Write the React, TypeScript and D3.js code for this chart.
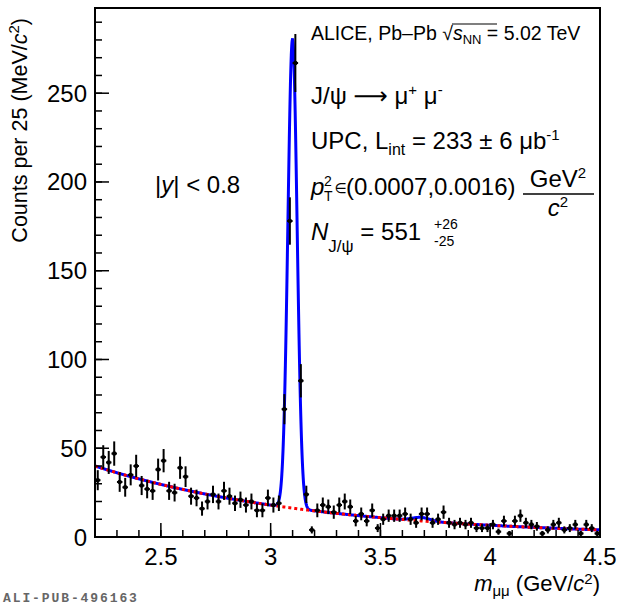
import React from 'react'
import * as d3 from 'd3'

// dimuon invariant mass histogram, 25 MeV bins from 2.2 to 4.5 GeV/c2
const massMin = 2.2
const massMax = 4.5
const binWidth = 0.025
const counts = [
  32, 45, 42, 47, 31, 28, 35, 40, 29, 27,
  26, 38, 43, 26, 25, 39, 34, 23, 22, 16,
  20, 24, 20, 26, 23, 19, 21, 18, 20, 15,
  15, 22, 18, 19, 72, 178, 267, 88, 24, 4,
  15, 18, 17, 14, 18, 20, 17, 9, 13, 9,
  15, 5, 10, 12, 12, 12, 13, 10, 8, 13,
  13, 8, 10, 14, 8, 7, 8, 7, 8, 5,
  5, 5, 7, 3, 9, 2, 9, 12, 8, 7,
  6, 2, 4, 7, 8, 4, 5, 7, 2, 7,
  5, 2,
]

// fit model parameters (counts per bin)
const bkgNorm = 40
const bkgSlope = 1.0
const jpsiAmp = 264
const jpsiMean = 3.0995
const jpsiSigma = 0.021
const psi2sAmp = 2
const psi2sMean = 3.686
const psi2sSigma = 0.04

const xMajorTicks = [2.5, 3, 3.5, 4, 4.5]
const xTickLabels = ['2.5', '3', '3.5', '4', '4.5']
const yMajorTicks = [0, 50, 100, 150, 200, 250]
const yTickLabels = ['0', '50', '100', '150', '200', '250']

const W = 620
const H = 606
const margin = { top: 8, right: 20, bottom: 69, left: 95 }
const font = 'Liberation Sans, Arial, Helvetica, sans-serif'

function bkg(m: number) {
  return bkgNorm * Math.exp(-bkgSlope * (m - massMin))
}
function gaus(m: number, a: number, mu: number, s: number) {
  const t = (m - mu) / s
  return a * Math.exp(-0.5 * t * t)
}
function total(m: number) {
  return bkg(m) + gaus(m, jpsiAmp, jpsiMean, jpsiSigma) + gaus(m, psi2sAmp, psi2sMean, psi2sSigma)
}

export default function App() {
  const x = d3.scaleLinear().domain([massMin, massMax]).range([margin.left, W - margin.right])
  const y = d3.scaleLinear().domain([0, 298]).range([H - margin.bottom, margin.top])
  const x0 = x.range()[0], x1 = x.range()[1]
  const y0 = y.range()[0], y1 = y.range()[1]

  const xMinor = d3.range(22, 46).map(d => d / 10)
  const yMinor = d3.range(0, 30).map(d => d * 10)

  const grid = d3.range(massMin, massMax + 1e-9, 0.001)
  const totalLine = d3.line<number>().x(d => x(d)).y(d => y(total(d)))
  const bkgLine = d3.line<number>().x(d => x(d)).y(d => y(bkg(d)))

  const points = counts.map((c, i) => ({ m: massMin + binWidth * (i + 0.5), c, e: Math.sqrt(c) }))

  return (
    <svg width={W} height={H} style={{ position: 'absolute', left: 0, top: 0, background: '#fff' }} fontFamily={font}>
      <defs>
        <clipPath id="frame">
          <rect x={x0} y={y1} width={x1 - x0} height={y0 - y1} />
        </clipPath>
      </defs>

      {/* fit curves */}
      <g clipPath="url(#frame)">
        <path d={totalLine(grid) ?? ''} fill="none" stroke="#0000ff" strokeWidth={3} />
        <path d={bkgLine(grid) ?? ''} fill="none" stroke="#ff0000" strokeWidth={3} strokeDasharray="3 3" />
      </g>

      {/* data */}
      <g stroke="#000" strokeWidth={2}>
        {points.map((p, i) => (
          <g key={i}>
            <line x1={x(p.m)} x2={x(p.m)} y1={y(Math.max(0, p.c - p.e))} y2={y(p.c + p.e)} />
            <line x1={x(p.m - binWidth / 2)} x2={x(p.m + binWidth / 2)} y1={y(p.c)} y2={y(p.c)} />
            <circle cx={x(p.m)} cy={y(p.c)} r={2.2} fill="#000" stroke="none" />
          </g>
        ))}
      </g>

      {/* frame and ticks */}
      <rect x={x0} y={y1} width={x1 - x0} height={y0 - y1} fill="none" stroke="#000" strokeWidth={2} />
      <g stroke="#000" strokeWidth={1.5}>
        {xMinor.map(t => (
          <line key={'xm' + t} x1={x(t)} x2={x(t)} y1={y0} y2={y0 - 7} />
        ))}
        {xMajorTicks.map(t => (
          <line key={'xM' + t} x1={x(t)} x2={x(t)} y1={y0} y2={y0 - 14} />
        ))}
        {yMinor.map(t => (
          <line key={'ym' + t} x1={x0} x2={x0 + 7} y1={y(t)} y2={y(t)} />
        ))}
        {yMajorTicks.map(t => (
          <line key={'yM' + t} x1={x0} x2={x0 + 14} y1={y(t)} y2={y(t)} />
        ))}
      </g>
      <g fontSize={24} fill="#000">
        {xMajorTicks.map((t, i) => (
          <text key={'xl' + t} x={x(t)} y={y0 + 28} textAnchor="middle">{xTickLabels[i]}</text>
        ))}
        {yMajorTicks.map((t, i) => (
          <text key={'yl' + t} x={x0 - 8} y={y(t) + 8.5} textAnchor="end">{yTickLabels[i]}</text>
        ))}
      </g>

      {/* axis titles */}
      <text transform="translate(27,18) rotate(-90)" textAnchor="end" fontSize={21.5}>
        Counts per 25 (MeV/<tspan fontStyle="italic">c</tspan><tspan dy={-8} fontSize={15}>2</tspan><tspan dy={8}>)</tspan>
      </text>
      <text x={x1} y={591} textAnchor="end" fontSize={22}>
        <tspan fontStyle="italic">m</tspan><tspan dy={5} fontSize={15}>μμ</tspan><tspan dy={-5}> (GeV/</tspan><tspan fontStyle="italic">c</tspan><tspan dy={-7} fontSize={15}>2</tspan><tspan dy={7}>)</tspan>
      </text>

      {/* annotations */}
      <text x={311} y={39.5} fontSize={19.5}>
        ALICE, Pb–Pb √<tspan fontStyle="italic">s</tspan><tspan dy={4} fontSize={13}>NN</tspan><tspan dy={-4}> = 5.02 TeV</tspan>
      </text>
      <line x1={452} x2={497} y1={24} y2={24} stroke="#000" strokeWidth={1.2} />
      <text x={311} y={104} fontSize={24}>
        J/ψ <tspan fontFamily="DejaVu Sans">⟶</tspan> μ<tspan dy={-9} fontSize={15}>+</tspan><tspan dy={9}> μ</tspan><tspan dy={-9} fontSize={15}>-</tspan>
      </text>
      <text x={311} y={149} fontSize={24}>
        UPC, L<tspan dy={6} fontSize={16}>int</tspan><tspan dy={-6}> = 233 ± 6 μb</tspan><tspan dy={-9} fontSize={15}>-1</tspan>
      </text>
      <text x={311} y={195} fontSize={24} fontStyle="italic">p</text>
      <text x={324} y={186} fontSize={14}>2</text>
      <text x={324} y={201} fontSize={14}>T</text>
      <text x={334.5} y={193} fontSize={14} fontFamily="DejaVu Sans">∈</text>
      <text x={346} y={195} fontSize={24}>(0.0007,0.0016)</text>
      <text x={558} y={187} fontSize={24} textAnchor="middle">GeV<tspan dy={-9} fontSize={15}>2</tspan></text>
      <line x1={523} x2={594} y1={194} y2={194} stroke="#000" strokeWidth={1.5} />
      <text x={558} y={216} fontSize={24} textAnchor="middle"><tspan fontStyle="italic">c</tspan><tspan dy={-9} fontSize={15}>2</tspan></text>
      <text x={311} y={240} fontSize={24}>
        <tspan fontStyle="italic">N</tspan><tspan dy={12} fontSize={17}>J/ψ</tspan><tspan dy={-12}> = 551</tspan>
      </text>
      <text x={434} y={229} fontSize={14}>+26</text>
      <text x={434} y={246} fontSize={14}>-25</text>
      <text x={155} y={193} fontSize={24}>
        |<tspan fontStyle="italic">y</tspan>| &lt; 0.8
      </text>

      <text x={3} y={602} fontSize={13} fontWeight="bold" fill="#666" fontFamily="Liberation Mono, DejaVu Sans Mono, monospace" letterSpacing={1.9}>
        ALI-PUB-496163
      </text>
    </svg>
  )
}
